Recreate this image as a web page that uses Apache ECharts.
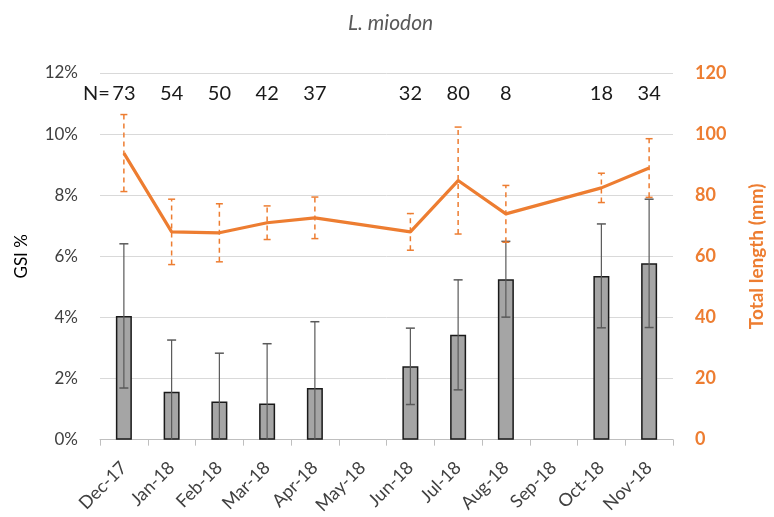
<!DOCTYPE html>
<html><head><meta charset="utf-8">
<script src="https://cdn.jsdelivr.net/npm/echarts@6/dist/echarts.min.js"></script>
<style>html,body{margin:0;padding:0;background:#fff}#c{width:774px;height:517px}</style>
</head><body><div id="c"></div>
<script>
const months = ['Dec-17','Jan-18','Feb-18','Mar-18','Apr-18','May-18','Jun-18','Jul-18','Aug-18','Sep-18','Oct-18','Nov-18'];
const gsi = [4.05, 1.57, 1.25, 1.18, 1.69, null, 2.40, 3.43, 5.25, null, 5.36, 5.77];
const gsiSD = [2.36, 1.69, 1.58, 1.96, 2.17, null, 1.25, 1.80, 1.24, null, 1.70, 2.10];
const totalLength = [93.8, 68.0, 67.7, 71.0, 72.6, null, 68.0, 84.8, 73.9, null, 82.4, 88.9];
const lengthSD = [12.6, 10.7, 9.5, 5.5, 6.8, null, 6.0, 17.5, 9.3, null, 4.8, 9.6];
const sampleN = ['73','54','50','42','37','','32','80','8','','18','34'];
const nPrefix = 'N=';

const FONT = 'Lato';
const ORANGE = '#ED7D31';
const TEXT = '#404040';

const gsiErr = [];
gsi.forEach((v, i) => { if (v != null) gsiErr.push([i, Math.max(0, v - gsiSD[i]), v + gsiSD[i]]); });
const lenErr = [];
totalLength.forEach((v, i) => { if (v != null) lenErr.push([i, v - lengthSD[i], v + lengthSD[i]]); });
const nData = sampleN.map((n, i) => [i, n]);

function errRender(capHalf, lineStyle, capStyle) {
  return function (params, api) {
    const x = api.value(0);
    const loV = api.value(1);
    const lo = api.coord([x, loV]);
    const hi = api.coord([x, api.value(2)]);
    const ch = [
      { type: 'line', shape: { x1: lo[0], y1: lo[1], x2: hi[0], y2: hi[1] }, style: lineStyle },
      { type: 'line', shape: { x1: hi[0] - capHalf, y1: hi[1], x2: hi[0] + capHalf, y2: hi[1] }, style: capStyle }
    ];
    if (loV > 0) ch.push({ type: 'line', shape: { x1: lo[0] - capHalf, y1: lo[1], x2: lo[0] + capHalf, y2: lo[1] }, style: capStyle });
    return { type: 'group', children: ch };
  };
}

const chart = echarts.init(document.getElementById('c'), null, { renderer: 'canvas' });
chart.setOption({
  animation: false,
  backgroundColor: '#fff',
  textStyle: { fontFamily: FONT },
  title: {
    text: 'L. miodon', left: 343, top: 8,
    textStyle: { fontFamily: FONT, fontStyle: 'italic', fontWeight: 'normal', fontSize: 21, color: '#595959' }
  },
  grid: { left: 100, right: 87, top: 73, bottom: 76 },
  xAxis: {
    type: 'category', data: months, boundaryGap: true,
    axisLine: { lineStyle: { color: '#BFBFBF', width: 1 } },
    axisTick: { show: true, length: 6, lineStyle: { color: '#BFBFBF' } },
    axisLabel: { rotate: 45, fontSize: 18, color: TEXT, margin: 25, fontFamily: FONT, interval: 0 }
  },
  yAxis: [{
    type: 'value', min: 0, max: 12, interval: 2,
    axisLabel: { formatter: '{value}%', fontSize: 17, color: TEXT, margin: 22, fontFamily: FONT },
    splitLine: { lineStyle: { color: '#D9D9D9', width: 1 } },
    axisLine: { show: false }, axisTick: { show: false },
    name: 'GSI %', nameLocation: 'middle', nameGap: 70, nameRotate: 90,
    nameTextStyle: { fontSize: 17, color: '#000', fontFamily: FONT }
  }, {
    type: 'value', min: 0, max: 120, interval: 20, position: 'right',
    axisLabel: { fontSize: 18, fontWeight: 'bold', color: ORANGE, margin: 22, fontFamily: FONT },
    splitLine: { show: false }, axisLine: { show: false }, axisTick: { show: false },
    name: 'Total length (mm)', nameLocation: 'middle', nameGap: 74, nameRotate: 90,
    nameTextStyle: { fontSize: 19, fontWeight: 'bold', color: ORANGE, fontFamily: FONT }
  }],
  series: [{
    type: 'bar', data: gsi, yAxisIndex: 0, barWidth: 16, z: 2,
    itemStyle: { color: '#A5A5A5', borderColor: '#1a1a1a', borderWidth: 1.5 }
  }, {
    type: 'custom', data: gsiErr, yAxisIndex: 0, z: 3,
    encode: { x: 0, y: [1, 2] },
    renderItem: errRender(4.5, { stroke: '#595959', lineWidth: 1.2 }, { stroke: '#595959', lineWidth: 1.5 })
  }, {
    type: 'line', data: totalLength, yAxisIndex: 1, connectNulls: true, z: 4,
    symbol: 'none', lineStyle: { color: ORANGE, width: 3.2 }
  }, {
    type: 'custom', data: lenErr, yAxisIndex: 1, z: 5,
    encode: { x: 0, y: [1, 2] },
    renderItem: errRender(3.5, { stroke: ORANGE, lineWidth: 1.5, lineDash: [5, 4] }, { stroke: ORANGE, lineWidth: 1.5 })
  }, {
    type: 'custom', data: nData, yAxisIndex: 0, z: 6, silent: true,
    encode: { x: 0 },
    renderItem: function (params, api) {
      const i = api.value(0);
      const n = sampleN[i];
      const p = api.coord([i, 11.33]);
      const ch = [{ type: 'text', x: p[0], y: p[1], style: { text: n, fontSize: 20, fontFamily: FONT, fill: '#1a1a1a', align: 'center', verticalAlign: 'middle' } }];
      if (i === 0) ch.push({ type: 'text', x: p[0] - 14, y: p[1], style: { text: nPrefix, fontSize: 20, fontFamily: FONT, fill: '#1a1a1a', align: 'right', verticalAlign: 'middle' } });
      return { type: 'group', children: ch };
    }
  }]
});
</script></body></html>
